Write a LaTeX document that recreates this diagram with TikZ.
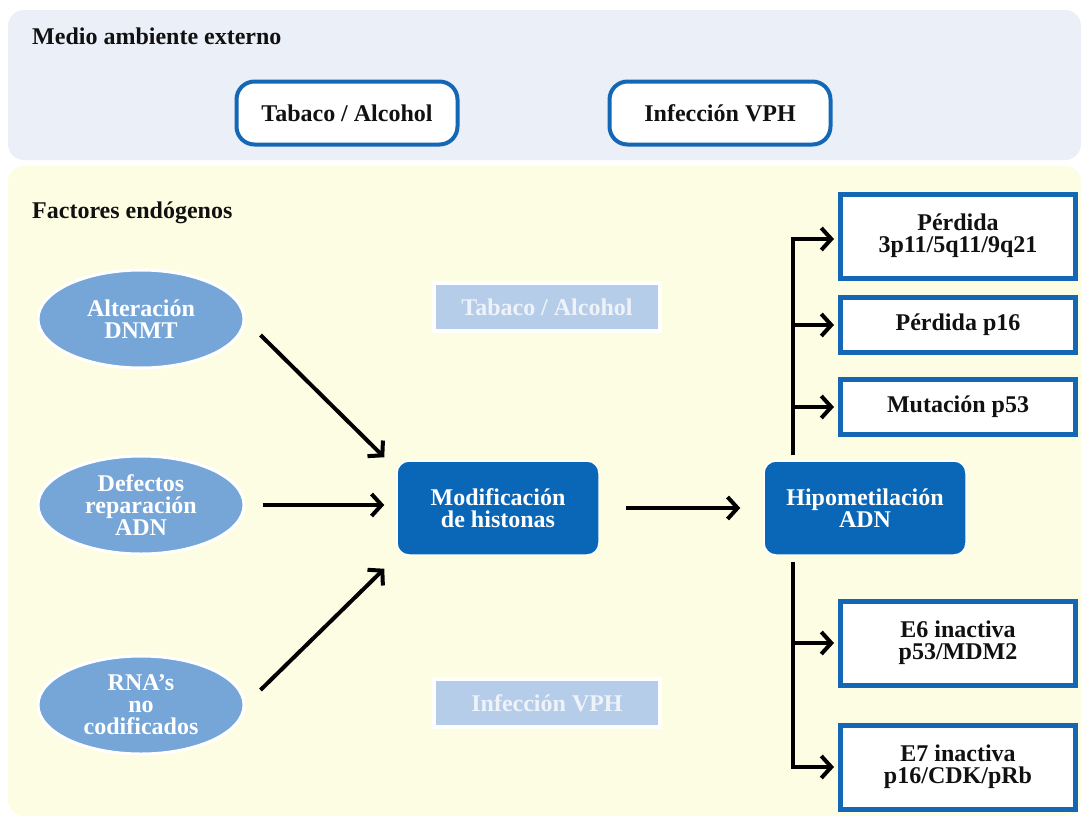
\documentclass[tikz,border=0pt]{standalone}
\usepackage{fontspec}
\setmainfont{Liberation Serif}
\usetikzlibrary{arrows.meta,shapes.geometric,calc}
\definecolor{topbg}{HTML}{EBEFF8}
\definecolor{botbg}{HTML}{FDFDE4}
\definecolor{bord}{HTML}{1467B4}
\definecolor{ellc}{HTML}{76A6D8}
\definecolor{darkc}{HTML}{0A67B8}
\definecolor{fadec}{HTML}{B6CDEA}
\definecolor{fadetxt}{HTML}{EEF3FA}
\definecolor{ink}{HTML}{111111}
\begin{document}
\begin{tikzpicture}[x=1pt,y=-1pt,
 txt/.style={font=\fontsize{24}{22}\selectfont\bfseries, align=center, text=ink, inner sep=0pt},
 head/.style={font=\fontsize{24}{22}\selectfont\bfseries, text=ink, anchor=west, inner sep=0pt},
 extbox/.style={txt, draw=bord, line width=4pt, fill=white, rounded corners=18pt, minimum width=221pt, minimum height=63pt},
 fadebox/.style={txt, text=fadetxt, draw=white, line width=4pt, fill=fadec, minimum width=226pt, minimum height=48pt},
 ellnode/.style={txt, text=white, ellipse, draw=white, line width=3pt, fill=ellc, minimum width=206pt, minimum height=98pt},
 darkbox/.style={txt, text=white, draw=white, line width=1.5pt, fill=darkc, rounded corners=12pt, minimum width=202pt, minimum height=94pt},
 resbox/.style={txt, draw=bord, line width=5pt, fill=white, minimum width=235pt},
 arr/.style={line width=4pt, draw=black, -{Straight Barb[length=10pt,width=22pt]}},
 trunk/.style={line width=4pt, draw=black}
]
\useasboundingbox (0,0) rectangle (1083,819);
\fill[topbg, rounded corners=16pt] (8,10) rectangle (1081,160);
\fill[botbg, rounded corners=16pt] (8,166) rectangle (1081,816);

\node[head] (hext) at (32,36) {Medio ambiente externo};
\node[head] (hend) at (32,213) {Factores endógenos};

\node[extbox] (tab) at (347,113) {Tabaco / Alcohol};
\node[extbox] (vph) at (720,113) {Infección VPH};

\node[fadebox] (tabf) at (547,307) {Tabaco / Alcohol};
\node[fadebox] (vphf) at (547,703) {Infección VPH};

\node[ellnode] (e1) at (141,319) {Alteración\\DNMT};
\node[ellnode] (e2) at (141,505) {Defectos\\reparación\\ADN};
\node[ellnode] (e3) at (141,705) {RNA’s\\no\\codificados};

\node[darkbox] (mod) at (498,508) {Modificación\\de histonas};
\node[darkbox] (hipo) at (865,508) {Hipometilación\\ADN};

\node[resbox, minimum height=84pt] (b1) at (958,236) {Pérdida\\3p11/5q11/9q21};
\node[resbox, minimum height=55pt] (b2) at (958,325) {Pérdida p16};
\node[resbox, minimum height=55pt] (b3) at (958,407) {Mutación p53};
\node[resbox, minimum height=84pt] (b4) at (958,643) {E6 inactiva\\p53/MDM2};
\node[resbox, minimum height=84pt] (b5) at (958,767) {E7 inactiva\\p16/CDK/pRb};

\draw[arr] ($(e1.east)+(15,16)$) -- ($(mod.north west)+(-12,-3)$);
\draw[arr, shorten <=17pt, shorten >=12pt] (e2.east) -- (e2.east -| mod.west);
\draw[arr] ($(e3.east)+(15,-15)$) -- ($(mod.south west)+(-12,13)$);
\draw[arr, shorten <=26pt, shorten >=23pt] (mod.east) -- (hipo.west);

\coordinate (tt) at (793,455);
\coordinate (tb) at (793,562);
\draw[arr, shorten >=4pt] (tt) |- ($(b1.west)+(0,3)$);
\draw[arr, shorten >=4pt] (tt) |- (b2.west);
\draw[arr, shorten >=4pt] (tt) |- (b3.west);
\draw[arr, shorten >=4pt] (tb) |- (b4.west);
\draw[arr, shorten >=4pt] (tb) |- (b5.west);
\end{tikzpicture}
\end{document}
